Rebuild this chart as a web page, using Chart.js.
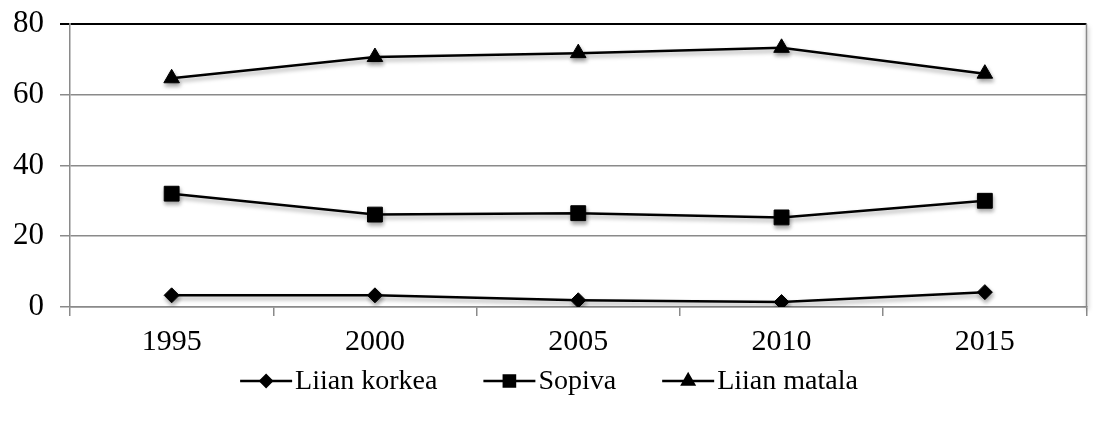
<!DOCTYPE html>
<html>
<head>
<meta charset="utf-8">
<script src="https://cdn.jsdelivr.net/npm/chart.js@4"></script>
<style>
  html, body { margin: 0; padding: 0; background: #fff; }
  #wrap { width: 1098px; height: 421px; }
</style>
</head>
<body>
<div id="wrap"><canvas id="chart" width="1098" height="421"></canvas></div>
<script>
// --- data ---
const years = ['1995', '2000', '2005', '2010', '2015'];
const liianKorkea = [3.3, 3.3, 1.9, 1.4, 4.2];
const sopiva = [32.0, 26.1, 26.5, 25.3, 30.0];
const liianMatala = [64.6, 70.6, 71.7, 73.2, 65.9];
const seriesNames = ['Liian korkea', 'Sopiva', 'Liian matala'];
const yTicks = [0, 20, 40, 60, 80];

const FONT = '"Liberation Serif", "Times New Roman", serif';
const GRID = '#8a8a8a';

// varjo merkeille (Excel-tyylinen)
const shadowPlugin = {
    id: 'shadow',
    beforeDatasetsDraw(chart) {
        const ctx = chart.ctx;
        ctx.save();
        ctx.shadowColor = 'rgba(0,0,0,0.35)';
        ctx.shadowBlur = 4;
        ctx.shadowOffsetX = 1;
        ctx.shadowOffsetY = 3;
    },
    afterDatasetsDraw(chart) {
        chart.ctx.restore();
    }
};

// oikea reuna
const borderPlugin = {
    id: 'rightBorder',
    beforeDatasetsDraw(chart) {
        const { ctx, chartArea } = chart;
        ctx.save();
        ctx.strokeStyle = GRID;
        ctx.lineWidth = 1.5;
        ctx.beginPath();
        ctx.moveTo(chartArea.right, chartArea.top);
        ctx.lineTo(chartArea.right, chartArea.bottom);
        ctx.stroke();
        ctx.restore();
    }
};

// selite: viiva + merkki + teksti, keskitetty
const legendPlugin = {
    id: 'lineLegend',
    afterDraw(chart) {
        const ctx = chart.ctx;
        const y = 381;
        const lineLen = 52, textGap = 3, itemGap = 46;
        ctx.save();
        ctx.font = '28px ' + FONT;
        ctx.textBaseline = 'middle';
        const items = chart.data.datasets.map(ds => ({ ds, w: lineLen + textGap + ctx.measureText(ds.label).width }));
        const total = items.reduce((s, it) => s + it.w, 0) + itemGap * (items.length - 1);
        let x = (chart.width - total) / 2;
        items.forEach(({ ds, w }) => {
            ctx.strokeStyle = '#000';
            ctx.lineWidth = 2.5;
            ctx.beginPath();
            ctx.moveTo(x, y);
            ctx.lineTo(x + lineLen, y);
            ctx.stroke();
            Chart.helpers.drawPoint(ctx, {
                pointStyle: ds.pointStyle,
                radius: ds.pointRadius * 0.75,
                borderWidth: 1
            }, x + lineLen / 2, y);
            ctx.fillStyle = '#000';
            ctx.fillText(ds.label, x + lineLen + textGap, y + 1);
            x += w + itemGap;
        });
        ctx.restore();
    }
};

function makeSet(label, data, style, radius) {
    return {
        label, data,
        borderColor: '#000',
        backgroundColor: '#000',
        borderWidth: 2.5,
        pointStyle: style,
        pointRadius: radius,
        pointHoverRadius: radius,
        pointBackgroundColor: '#000',
        pointBorderColor: '#000',
        pointBorderWidth: 1,
        tension: 0
    };
}

new Chart(document.getElementById('chart'), {
    type: 'line',
    data: {
        labels: years,
        datasets: [
            makeSet(seriesNames[0], liianKorkea, 'rectRot', 7.5),
            makeSet(seriesNames[1], sopiva, 'rect', 10.5),
            makeSet(seriesNames[2], liianMatala, 'triangle', 9)
        ]
    },
    options: {
        responsive: false,
        animation: false,
        devicePixelRatio: 1,
        layout: { padding: { top: 0, right: 1, left: 0, bottom: 0 } },
        plugins: { legend: { display: false }, tooltip: { enabled: false } },
        scales: {
            x: {
                offset: true,
                grid: { offset: true, drawOnChartArea: false, color: GRID, lineWidth: 1.5, tickLength: 9 },
                border: { color: GRID, width: 1.5 },
                ticks: { color: '#000', font: { family: FONT, size: 30 }, padding: 8, maxRotation: 0 },
                afterFit(scale) {
                    scale.height = 421 - 307;
                    // ei ylimääräistä reunatilaa oikealle
                    scale.paddingLeft = 0;
                    scale.paddingRight = 0;
                }
            },
            y: {
                min: 0, max: 80,
                afterBuildTicks(scale) { scale.ticks = yTicks.map(v => ({ value: v })); },
                grid: {
                    color: ctx => ctx.tick && ctx.tick.value === 80 ? '#000' : GRID,
                    lineWidth: ctx => ctx.tick && ctx.tick.value === 80 ? 2 : 1.5,
                    tickLength: 10
                },
                border: { color: GRID, width: 1.5 },
                // pieni lineHeight => kaavioalue alkaa ylempää (y=24)
                ticks: { color: '#000', font: { family: FONT, size: 31, lineHeight: 0.5 }, padding: 16 },
                afterFit(scale) { scale.width = 70; }
            }
        }
    },
    plugins: [shadowPlugin, borderPlugin, legendPlugin]
});
</script>
</body>
</html>
